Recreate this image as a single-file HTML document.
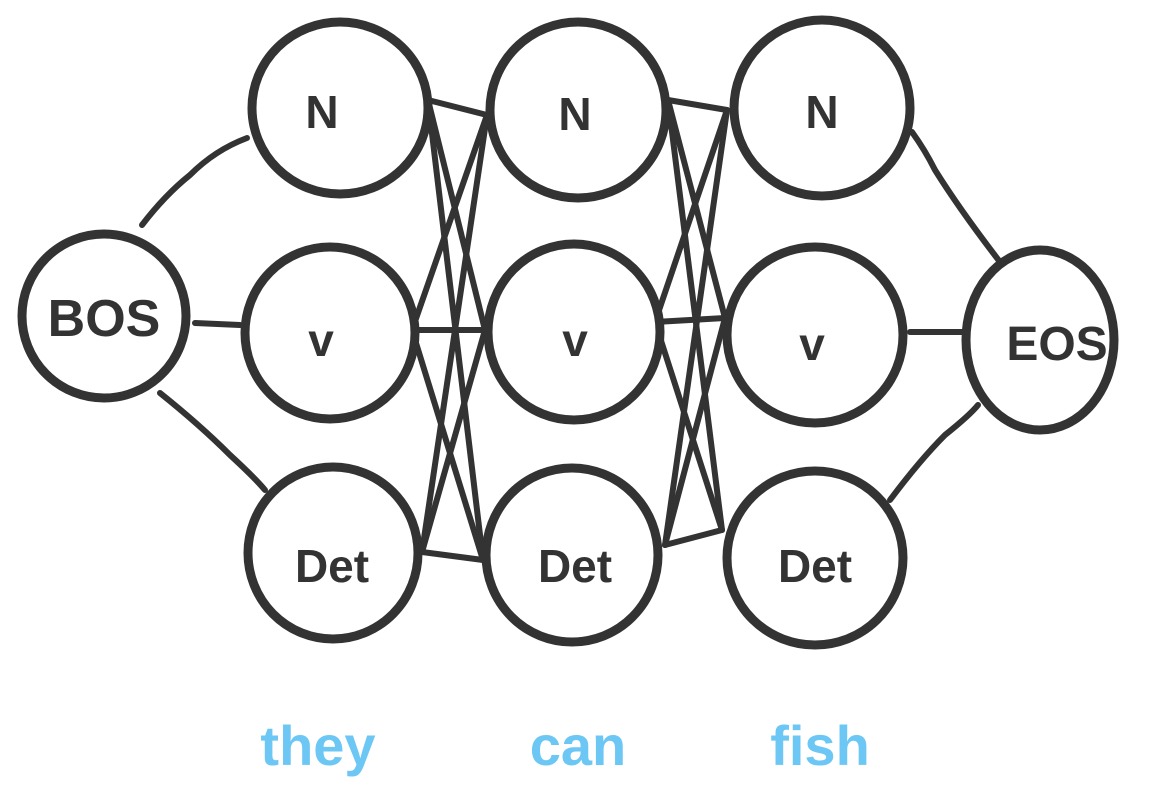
<!DOCTYPE html>
<html><head><meta charset="utf-8"><style>
html,body{margin:0;padding:0;background:#fff;}
svg{display:block}
</style></head><body>
<svg width="1160" height="792" viewBox="0 0 1160 792" xmlns="http://www.w3.org/2000/svg">
<g stroke="#333" stroke-width="6" fill="none" stroke-linecap="round">
<path d="M142 225 Q165 195 190 175 Q215 150 247 138"/>
<path d="M195 323 L240 325"/>
<path d="M160 393 Q200 425 230 455 Q255 478 265 490"/>
<path d="M428 100 L487 115"/>
<path d="M428 100 L485 330"/>
<path d="M428 100 L483 560"/>
<path d="M412 330 L487 115"/>
<path d="M412 330 L485 330"/>
<path d="M412 330 L483 560"/>
<path d="M422 552 L487 115"/>
<path d="M422 552 L485 330"/>
<path d="M422 552 L483 560"/>
<path d="M668 100 L727 110"/>
<path d="M668 100 L725 318"/>
<path d="M668 100 L722 530"/>
<path d="M655 322 L727 110"/>
<path d="M655 322 L725 318"/>
<path d="M655 322 L722 530"/>
<path d="M665 545 L727 110"/>
<path d="M665 545 L725 318"/>
<path d="M665 545 L722 530"/>
<path d="M912 132 Q925 150 935 170 Q960 210 1000 262"/>
<path d="M910 332 L965 332"/>
<path d="M890 500 Q920 460 945 435 Q970 415 978 405"/>
</g>
<g stroke="#333" stroke-width="9" fill="#fff">
<circle cx="104" cy="316" r="82"/>
<ellipse cx="340" cy="108" rx="88" ry="86"/>
<ellipse cx="330" cy="333" rx="85" ry="86"/>
<ellipse cx="333" cy="553" rx="85" ry="86"/>
<ellipse cx="578" cy="110" rx="88" ry="88"/>
<ellipse cx="574" cy="332" rx="86" ry="88"/>
<ellipse cx="572" cy="555" rx="86" ry="87"/>
<ellipse cx="822" cy="108" rx="88" ry="88"/>
<ellipse cx="815" cy="335" rx="88" ry="88"/>
<ellipse cx="815" cy="558" rx="88" ry="87"/>
<ellipse cx="1040" cy="340" rx="74" ry="90"/>
</g>
<g font-family="Liberation Sans, sans-serif" font-size="46" fill="#333" text-anchor="middle" font-weight="bold">
<text x="104" y="336" font-size="52">BOS</text>
<text x="322" y="128">N</text>
<text x="321" y="356">v</text>
<text x="332" y="582">Det</text>
<text x="575" y="130">N</text>
<text x="575" y="356">v</text>
<text x="575" y="582">Det</text>
<text x="822" y="128">N</text>
<text x="812" y="360">v</text>
<text x="815" y="582">Det</text>
<text x="1057" y="360" font-size="48">EOS</text>
</g>
<g font-family="Liberation Sans, sans-serif" font-size="56" fill="#6cc7f5" text-anchor="middle" font-weight="bold">
<text x="318" y="765">they</text>
<text x="578" y="765">can</text>
<text x="820" y="765">fish</text>
</g>
</svg>
</body></html>
